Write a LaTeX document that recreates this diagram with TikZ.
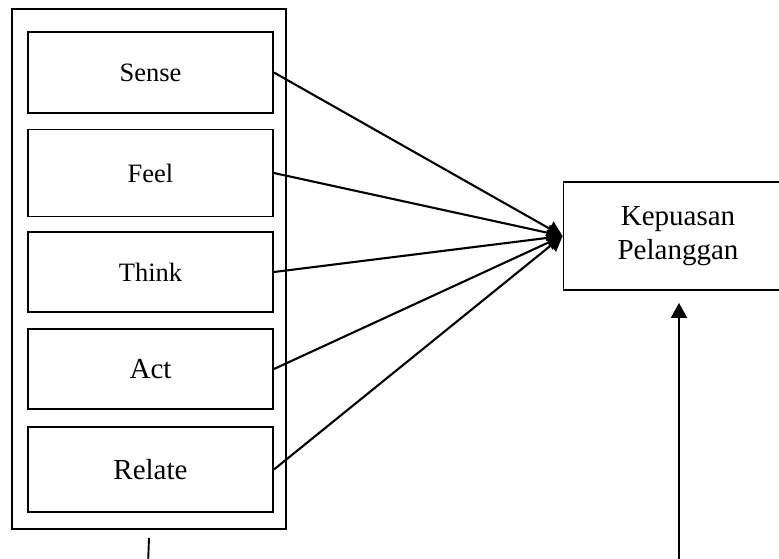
\documentclass[tikz,border=0pt]{standalone}
\usepackage{fontspec}
\setmainfont{Liberation Serif}
\usetikzlibrary{arrows.meta, positioning}

\begin{document}
\begin{tikzpicture}[x=1pt, y=-1pt,
    kotak/.style={draw, line width=1.9pt, minimum width=245pt, inner sep=0pt},
    kecil/.style={font=\fontsize{26.5}{30}\selectfont},
    besar/.style={font=\fontsize{29}{34}\selectfont},
    panah/.style={line width=2.1pt, -{Triangle[length=15pt, width=16pt]}}]
    \clip (0,0) rectangle (779,558);

    % Kotak luar (experiential marketing)
    \node[draw, line width=1.7pt, minimum width=274pt, minimum height=520pt] (luar) at (149,269) {};

    % Dimensi
    \node[kotak, kecil, minimum height=81pt] (sense) at (150.5,72.5) {Sense};
    \node[kotak, kecil, minimum height=87pt] (feel) at (150.5,173) {Feel};
    \node[kotak, kecil, minimum height=80pt] (think) at (150.5,272) {Think};
    \node[kotak, besar, minimum height=80pt] (act) at (150.5,369) {Act};
    \node[kotak, besar, minimum height=85pt] (relate) at (150.5,469.5) {Relate};

    % Variabel terikat
    \node[draw, line width=1.9pt, besar, align=center, minimum width=229pt, minimum height=108pt] (puas) at (678,236) {Kepuasan\\Pelanggan};

    % Panah ke kepuasan
    \foreach \n in {sense, feel, think, act, relate}
        \draw[panah] (\n.east) -- (puas.west);

    % Garis keluar gambar
    \coordinate (kiri) at (148,565);
    \coordinate (kanan) at (679,565);
    \draw[line width=1.9pt] ([yshift=-8pt]luar.south) -- (kiri);
    \draw[panah] (kanan) -- ([xshift=1pt, yshift=-12pt]puas.south);
\end{tikzpicture}
\end{document}
